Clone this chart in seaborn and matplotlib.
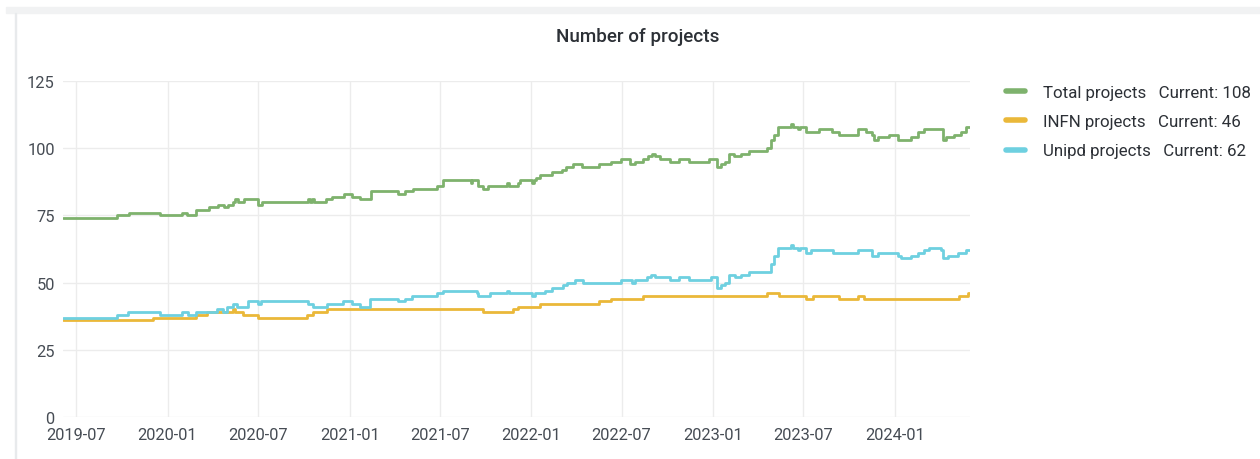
import pandas as pd
import seaborn as sns
import matplotlib.pyplot as plt
import matplotlib.dates as mdates
from matplotlib.lines import Line2D
from matplotlib.patches import Rectangle

# step change points (date, value)
total_dates = ["2019-06-05", "2019-09-21", "2019-10-16", "2019-12-17", "2020-01-30", "2020-02-09",
               "2020-02-28", "2020-03-24", "2020-04-11", "2020-04-23", "2020-05-01", "2020-05-11",
               "2020-05-15", "2020-05-21", "2020-06-03", "2020-07-01", "2020-07-09", "2020-10-09",
               "2020-10-13", "2020-10-17", "2020-10-21", "2020-11-14", "2020-11-27", "2020-12-21",
               "2021-01-06", "2021-01-22", "2021-02-13", "2021-04-08", "2021-04-22", "2021-05-08",
               "2021-06-26", "2021-07-08", "2021-09-01", "2021-09-04", "2021-09-16", "2021-09-26",
               "2021-10-06", "2021-11-13", "2021-11-17", "2021-12-06", "2021-12-10", "2022-01-03",
               "2022-01-07", "2022-01-11", "2022-01-19", "2022-02-12", "2022-03-04", "2022-03-12",
               "2022-03-26", "2022-04-12", "2022-05-16", "2022-06-09", "2022-06-29", "2022-07-19",
               "2022-07-29", "2022-08-14", "2022-08-24", "2022-09-01", "2022-09-07", "2022-09-17",
               "2022-10-07", "2022-10-25", "2022-11-13", "2022-12-23", "2023-01-08", "2023-01-16",
               "2023-01-24", "2023-02-01", "2023-02-11", "2023-02-25", "2023-03-14", "2023-04-20",
               "2023-04-28", "2023-05-03", "2023-05-11", "2023-06-06", "2023-06-10", "2023-06-20",
               "2023-06-24", "2023-07-06", "2023-08-01", "2023-08-27", "2023-09-11", "2023-10-19",
               "2023-11-04", "2023-11-16", "2023-11-20", "2023-11-28", "2023-12-20", "2024-01-07",
               "2024-02-02", "2024-02-16", "2024-02-28", "2024-04-06", "2024-04-12", "2024-04-28",
               "2024-05-13", "2024-05-23", "2024-05-31"]
total_vals = [74, 75, 76, 75, 76, 75,
              77, 78, 79, 78, 79, 80,
              81, 80, 81, 79, 80, 81,
              80, 81, 80, 81, 82, 83,
              82, 81, 84, 83, 84, 85,
              86, 88, 87, 88, 86, 85,
              86, 87, 86, 87, 88, 87,
              88, 89, 90, 91, 92, 93,
              94, 93, 94, 95, 96, 94,
              95, 96, 97, 98, 97, 96,
              95, 96, 95, 96, 93, 94,
              95, 98, 97, 98, 99, 100,
              103, 105, 108, 109, 108, 107,
              108, 106, 107, 106, 105, 107,
              106, 105, 103, 104, 105, 103,
              104, 106, 107, 103, 104, 105,
              106, 108, 108]

infn_dates = ["2019-06-05", "2019-12-03", "2020-02-28", "2020-03-20", "2020-05-11", "2020-05-15",
              "2020-06-01", "2020-07-01", "2020-10-07", "2020-10-19", "2020-11-16", "2021-09-26",
              "2021-11-24", "2021-12-06", "2022-01-19", "2022-05-16", "2022-06-09", "2022-08-14",
              "2023-04-20", "2023-05-13", "2023-07-06", "2023-07-20", "2023-09-11", "2023-10-19",
              "2023-10-31", "2024-05-09", "2024-05-27", "2024-05-31"]
infn_vals = [36, 37, 38, 39, 40, 39,
             38, 37, 38, 39, 40, 39,
             40, 41, 42, 43, 44, 45,
             46, 45, 44, 45, 44, 45,
             44, 45, 46, 46]

unipd_dates = ["2019-06-05", "2019-09-21", "2019-10-14", "2019-12-17", "2020-01-30", "2020-02-11",
               "2020-02-28", "2020-04-09", "2020-04-21", "2020-04-29", "2020-05-11", "2020-05-19",
               "2020-06-11", "2020-07-01", "2020-07-07", "2020-10-09", "2020-10-19", "2020-11-16",
               "2020-12-19", "2021-01-06", "2021-01-22", "2021-02-11", "2021-04-08", "2021-04-22",
               "2021-05-06", "2021-06-26", "2021-07-08", "2021-09-14", "2021-09-16", "2021-10-10",
               "2021-11-13", "2021-11-17", "2022-01-03", "2022-01-09", "2022-01-29", "2022-02-12",
               "2022-03-06", "2022-03-14", "2022-03-30", "2022-04-14", "2022-06-29", "2022-07-23",
               "2022-07-29", "2022-08-22", "2022-08-30", "2022-09-07", "2022-10-07", "2022-10-25",
               "2022-11-13", "2022-12-27", "2023-01-08", "2023-01-16", "2023-01-24", "2023-02-01",
               "2023-02-13", "2023-02-25", "2023-03-14", "2023-04-28", "2023-05-03", "2023-05-11",
               "2023-06-06", "2023-06-10", "2023-06-20", "2023-06-24", "2023-07-06", "2023-07-16",
               "2023-08-30", "2023-10-19", "2023-11-16", "2023-11-28", "2024-01-07", "2024-01-13",
               "2024-02-02", "2024-02-16", "2024-02-28", "2024-03-09", "2024-04-02", "2024-04-06",
               "2024-04-16", "2024-05-06", "2024-05-23", "2024-05-31"]
unipd_vals = [37, 38, 39, 38, 39, 38,
              39, 40, 39, 41, 42, 41,
              43, 42, 43, 42, 41, 42,
              43, 42, 41, 44, 43, 44,
              45, 46, 47, 46, 45, 46,
              47, 46, 45, 46, 47, 48,
              49, 50, 51, 50, 51, 50,
              51, 52, 53, 52, 51, 52,
              51, 52, 48, 49, 50, 53,
              52, 53, 54, 57, 60, 63,
              64, 63, 62, 63, 61, 62,
              61, 62, 60, 61, 60, 59,
              60, 61, 62, 63, 62, 59,
              60, 61, 62, 62]

series_names = ["Total projects", "INFN projects", "Unipd projects"]
colors = {"Total projects": "#7EB26D", "INFN projects": "#EAB839", "Unipd projects": "#6ED0E0"}

frames = []
for name, d, v in zip(series_names, [total_dates, infn_dates, unipd_dates],
                      [total_vals, infn_vals, unipd_vals]):
    frames.append(pd.DataFrame({"date": pd.to_datetime(d), "value": v, "series": name}))
df = pd.concat(frames, ignore_index=True)

sns.set_style("white")
plt.rcParams["font.family"] = ["Roboto", "DejaVu Sans"]

fig = plt.figure(figsize=(12.6, 4.6), dpi=100)
# grafana panel chrome
fig.patches.append(Rectangle((6 / 1260, 1 - 14 / 460), 1, 6 / 460, transform=fig.transFigure,
                             color="#f1f2f3", zorder=0))
fig.patches.append(Rectangle((15 / 1260, 0), 1 / 1260, 1 - 14 / 460, transform=fig.transFigure,
                             color="#e8eaec", zorder=0))

ax = fig.add_axes([63 / 1260, 42 / 460, 907 / 1260, 336 / 460])
for name in series_names:
    sub = df[df["series"] == name]
    sns.lineplot(data=sub, x="date", y="value", ax=ax, color=colors[name], linewidth=2,
                 drawstyle="steps-post", legend=False, zorder=3)

ax.set_ylim(0, 125)
ax.set_yticks([0, 25, 50, 75, 100, 125])
ax.set_xlim(df["date"].min(), df["date"].max())
ax.xaxis.set_major_locator(mdates.MonthLocator(bymonth=[1, 7]))
ax.xaxis.set_major_formatter(mdates.DateFormatter("%Y-%m"))
ax.grid(True, color="#ececec", linewidth=1)
for s in ax.spines.values():
    s.set_visible(False)
ax.tick_params(axis="both", length=0, labelsize=11.8, labelcolor="#464c54")
ax.tick_params(axis="y", pad=6)
ax.tick_params(axis="x", pad=7)
ax.set_xlabel("")
ax.set_ylabel("")

fig.text(638 / 1260, 1 - 37 / 460, "Number of projects", ha="center", va="center",
         fontsize=13.6, fontweight="medium", color="#2c3036")

handles = []
labels = []
for name, vals in zip(series_names, [total_vals, infn_vals, unipd_vals]):
    handles.append(Line2D([], [], color=colors[name], linewidth=4))
    labels.append(f"{name}   Current: {vals[-1]}")
fig.legend(handles, labels, loc="upper left", bbox_to_anchor=(1006 / 1260, 1 - 86 / 460),
           frameon=False, fontsize=12.2, handlelength=1.1, handletextpad=1.1,
           labelspacing=0.84, borderpad=0, borderaxespad=0, labelcolor="#2c3036")

fig.savefig("out.png", dpi=100)
